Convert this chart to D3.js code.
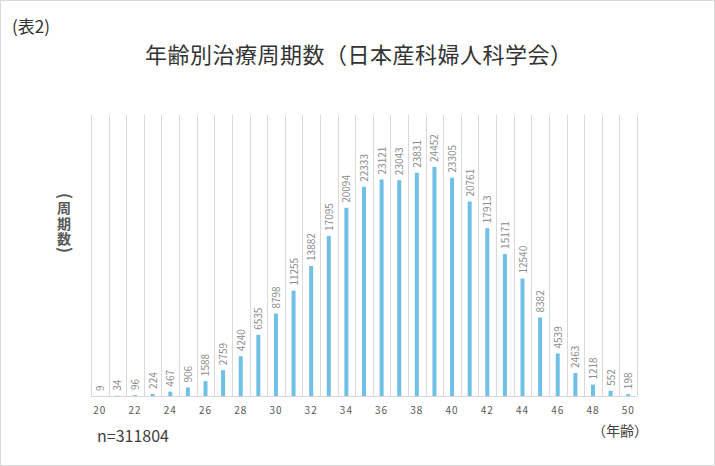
<!DOCTYPE html>
<html>
<head>
<meta charset="utf-8">
<script src="https://cdn.jsdelivr.net/npm/d3@7"></script>
<style>
  body { margin: 0; background: #fff; }
  svg { display: block; font-family: "Noto Sans CJK JP", "Noto Sans", sans-serif; }
</style>
</head>
<body>
<svg></svg>
<script>
const ages = d3.range(20, 51);
const cycles = [9, 34, 96, 224, 467, 906, 1588, 2759, 4240, 6535, 8798, 11255, 13882, 17095, 20094, 22333,
  23121, 23043, 23831, 24452, 23305, 20761, 17913, 15171, 12540, 8382, 4539, 2463, 1218, 552, 198];
const tickAges = d3.range(20, 51, 2);
const yMax = 30000;
const yLabelChars = ["周", "期", "数"];

const width = 715, height = 466;
const margin = { left: 91, right: 78, top: 115, bottom: 70 };
const innerWidth = width - margin.left - margin.right;
const innerHeight = height - margin.top - margin.bottom;

const svg = d3.select("svg").attr("width", width).attr("height", height);

// frame
svg.append("rect")
  .attr("x", 0.5).attr("y", 0.5)
  .attr("width", width - 1).attr("height", height - 1)
  .attr("fill", "#fff").attr("stroke", "#d9d9d9");

svg.append("text")
  .attr("x", 12).attr("y", 33)
  .attr("font-size", 17).attr("fill", "#333")
  .text("(表2)");

svg.append("text")
  .attr("x", 145).attr("y", 63)
  .attr("font-size", 22).attr("fill", "#333")
  .attr("textLength", 427).attr("lengthAdjust", "spacing")
  .text("年齢別治療周期数（日本産科婦人科学会）");

const plot = svg.append("g").attr("transform", `translate(${margin.left}, ${margin.top})`);

const x = d3.scaleBand().domain(ages).range([0, innerWidth]);
const y = d3.scaleLinear().domain([0, yMax]).range([innerHeight, 0]);

// vertical gridlines between categories
plot.append("g")
  .selectAll("line")
  .data(d3.range(ages.length + 1))
  .join("line")
  .attr("x1", (i) => Math.round(i * x.step()) + 0.5)
  .attr("x2", (i) => Math.round(i * x.step()) + 0.5)
  .attr("y1", 0).attr("y2", innerHeight)
  .attr("stroke", "#d9d9d9");

plot.append("line")
  .attr("x1", 0).attr("x2", innerWidth)
  .attr("y1", innerHeight + 0.5).attr("y2", innerHeight + 0.5)
  .attr("stroke", "#d9d9d9");

// bars
const barW = 4;
plot.selectAll("rect.bar")
  .data(ages)
  .join("rect")
  .attr("class", "bar")
  .attr("x", (d) => x(d) + x.bandwidth() / 2 - barW / 2)
  .attr("y", (d, i) => y(cycles[i]))
  .attr("width", barW)
  .attr("height", (d, i) => innerHeight - y(cycles[i]))
  .attr("fill", "#70bfe6");

// value labels
plot.selectAll("text.val")
  .data(ages)
  .join("text")
  .attr("class", "val")
  .attr("transform", (d, i) => `translate(${x(d) + x.bandwidth() / 2 + 0.5}, ${y(cycles[i]) - 5}) rotate(-90)`)
  .attr("dy", "0.35em")
  .attr("font-size", 10).attr("fill", "#8c8c8c")
  .text((d, i) => cycles[i]);

// x tick labels
plot.append("g")
  .attr("transform", `translate(0, ${innerHeight})`)
  .selectAll("text")
  .data(tickAges)
  .join("text")
  .attr("x", (d) => x(d) + x.bandwidth() / 2)
  .attr("y", 18)
  .attr("text-anchor", "middle")
  .attr("font-size", 10).attr("letter-spacing", 1).attr("fill", "#595959")
  .text((d) => d);

// y label: stacked characters with rotated brackets
const yLabel = svg.append("g")
  .attr("font-size", 14).attr("font-weight", "bold").attr("fill", "#595959")
  .attr("text-anchor", "middle");
yLabel.selectAll("text.ch")
  .data(yLabelChars)
  .join("text")
  .attr("class", "ch")
  .attr("x", 64)
  .attr("y", (d, i) => 213 + i * 15.5)
  .text((d) => d);
yLabel.selectAll("text.br")
  .data([["(", 196], [")", 250]])
  .join("text")
  .attr("class", "br")
  .attr("transform", (d) => `translate(64, ${d[1]}) rotate(90)`)
  .attr("dy", "0.32em")
  .attr("font-size", 16)
  .text((d) => d[0]);

svg.append("text")
  .attr("x", 97).attr("y", 442)
  .attr("font-size", 16).attr("fill", "#404040")
  .text("n=311804");

svg.append("text")
  .attr("x", 648).attr("y", 436)
  .attr("text-anchor", "end")
  .attr("font-size", 14).attr("fill", "#404040")
  .text("（年齢）");
</script>
</body>
</html>
